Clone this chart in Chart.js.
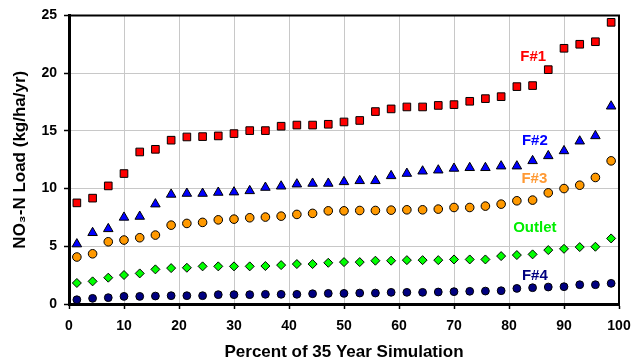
<!DOCTYPE html>
<html><head><meta charset="utf-8">
<script src="https://cdn.jsdelivr.net/npm/chart.js@4"></script>
<style>html,body{margin:0;padding:0;background:#fff}#wrap{width:642px;height:363px}</style>
</head><body><div id="wrap"><canvas id="c" width="642" height="363"></canvas></div>
<script>
const seriesNames = ['F#1','F#2','F#3','Outlet','F#4'];
const pctSim = [1.43,4.29,7.14,10,12.86,15.71,18.57,21.43,24.29,27.14,30,32.86,35.71,38.57,41.43,44.29,47.14,50,52.86,55.71,58.57,61.43,64.29,67.14,70,72.86,75.71,78.57,81.43,84.29,87.14,90,92.86,95.71,98.57];
const f1 = [8.76,9.17,10.23,11.3,13.17,13.4,14.19,14.47,14.5,14.56,14.76,15.02,15.02,15.4,15.5,15.5,15.57,15.77,15.9,16.67,16.9,17.07,17.07,17.2,17.27,17.56,17.79,17.96,18.83,18.92,20.3,22.15,22.5,22.72,24.4];
const f2 = [5.19,6.17,6.51,7.5,7.58,8.65,9.49,9.57,9.57,9.66,9.69,9.8,10.09,10.2,10.38,10.44,10.44,10.58,10.67,10.67,11.1,11.3,11.5,11.59,11.74,11.8,11.8,11.94,11.94,12.4,12.83,13.26,14.1,14.56,17.13];
const f3 = [4.07,4.35,5.39,5.54,5.74,5.97,6.83,6.98,7.07,7.29,7.35,7.47,7.53,7.61,7.76,7.85,8.07,8.07,8.1,8.1,8.13,8.16,8.16,8.22,8.36,8.36,8.48,8.65,8.94,9.0,9.63,10.0,10.29,10.96,12.4];
const outlet = [1.82,1.96,2.28,2.51,2.65,3.0,3.11,3.14,3.26,3.26,3.26,3.26,3.29,3.37,3.46,3.46,3.57,3.63,3.63,3.75,3.75,3.8,3.8,3.8,3.86,3.86,3.86,4.15,4.24,4.3,4.67,4.78,4.93,4.96,5.68];
const f4 = [0.37,0.49,0.55,0.66,0.66,0.69,0.72,0.72,0.72,0.81,0.81,0.81,0.84,0.84,0.84,0.89,0.92,0.92,0.95,0.95,1.01,1.01,1.01,1.04,1.07,1.1,1.12,1.15,1.35,1.41,1.47,1.5,1.67,1.67,1.79];
const xTicks = [0,10,20,30,40,50,60,70,80,90,100];
const yTicks = [0,5,10,15,20,25];
const labelX = [84.4,84.7,84.6,84.7,84.7];
const labelY = [21.4,14.1,10.8,6.6,2.4];

const FONT = '"Liberation Sans", Arial, sans-serif';
const allSeries = [f1,f2,f3,outlet,f4];
const styles = [
  {bg:'#FF0000', ps:'rect', r:5.4, txt:'#FF0000'},
  {bg:'#0000FF', ps:'triangle', r:5.5, txt:'#0000FF'},
  {bg:'#FF9900', ps:'circle', r:4.3, txt:'#FF9933'},
  {bg:'#00FF00', ps:'rectRot', r:4.5, txt:'#00EE00'},
  {bg:'#000080', ps:'circle', r:3.9, txt:'#000080'}
];
const datasets = allSeries.map((vals,i)=>({
  label: seriesNames[i],
  data: vals.map((v,j)=>({x:pctSim[j], y:v})),
  backgroundColor: styles[i].bg,
  borderColor: '#000000',
  borderWidth: 1,
  pointStyle: styles[i].ps,
  pointRadius: styles[i].r,
  pointHoverRadius: styles[i].r,
  showLine: false
})).reverse();

const framePlugin = {
  id:'frame',
  beforeDatasetsDraw(chart){
    const {ctx, chartArea:a} = chart;
    ctx.save();
    ctx.strokeStyle='#000'; ctx.lineWidth=2;
    ctx.beginPath();
    ctx.moveTo(a.left, a.top); ctx.lineTo(a.right, a.top); ctx.lineTo(a.right, a.bottom);
    ctx.stroke();
    ctx.restore();
  },
  afterDatasetsDraw(chart){
    const {ctx} = chart;
    const xs = chart.scales.x, ys = chart.scales.y;
    ctx.save();
    ctx.font = 'bold 15px ' + FONT;
    ctx.textAlign='center'; ctx.textBaseline='middle';
    seriesNames.forEach((n,i)=>{
      ctx.fillStyle = styles[i].txt;
      ctx.fillText(n, xs.getPixelForValue(labelX[i]), ys.getPixelForValue(labelY[i]));
    });
    ctx.restore();
  }
};

new Chart(document.getElementById('c'), {
  type:'scatter',
  data:{datasets},
  options:{
    responsive:false, animation:false, devicePixelRatio:1,
    layout:{padding:{left:10, top:15, right:23, bottom:0}},
    plugins:{legend:{display:false}, tooltip:{enabled:false}},
    scales:{
      x:{
        type:'linear', min:0, max:100,
        afterBuildTicks(s){ s.ticks = xTicks.map(v=>({value:v})); },
        afterFit(s){ s.height = 59; },
        grid:{color:'#C8C8C8', lineWidth:1, tickColor:'#000', tickLength:5, tickWidth:1.5},
        border:{color:'#000', width:3},
        ticks:{color:'#000', padding:9, maxRotation:0, font:{family:FONT, size:14, weight:'bold'}},
        title:{display:true, text:'Percent of 35 Year Simulation', color:'#000', padding:{top:0,bottom:0}, font:{family:FONT, size:17, weight:'bold'}}
      },
      y:{
        type:'linear', min:0, max:25,
        afterBuildTicks(s){ s.ticks = yTicks.map(v=>({value:v})); },
        afterFit(s){ s.width = 59; },
        grid:{color:'#C8C8C8', lineWidth:1, tickColor:'#000', tickLength:5, tickWidth:1.5},
        border:{color:'#000', width:3},
        ticks:{color:'#000', padding:7, font:{family:FONT, size:14, weight:'bold'}},
        title:{display:true, text:'NO₃-N Load (kg/ha/yr)', color:'#000', padding:{top:0,bottom:0}, font:{family:FONT, size:17, weight:'bold'}}
      }
    }
  },
  plugins:[framePlugin]
});
</script></body></html>
